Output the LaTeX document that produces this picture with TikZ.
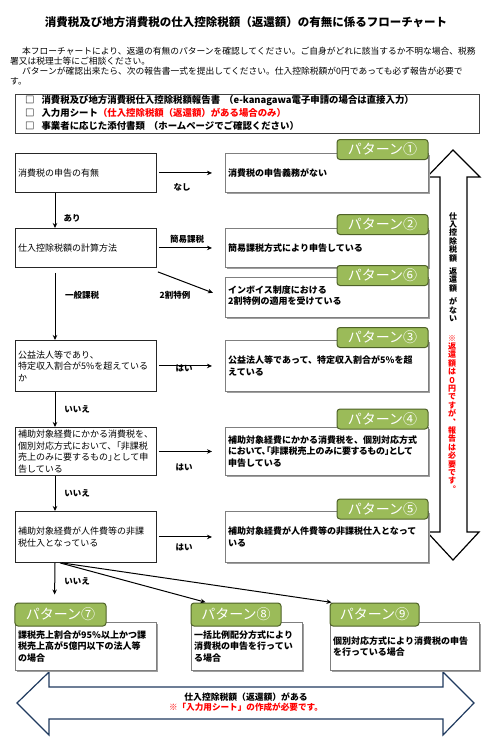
\documentclass[tikz,border=0pt]{standalone}
\usepackage{fontspec}
\setmainfont{Noto Sans CJK JP}
\newfontfamily\paltfont{Noto Sans CJK JP}[RawFeature=+palt]
\usetikzlibrary{arrows.meta,shadows,calc}
\definecolor{tabfill}{HTML}{9BBB59}
\definecolor{tabline}{HTML}{4F6228}
\definecolor{navyline}{HTML}{1F3A5F}
\definecolor{boxgray}{HTML}{7F7F7F}
\definecolor{redtxt}{HTML}{FF0000}
\begin{document}
\begin{tikzpicture}[x=1bp,y=-1bp,
  lbox/.style={draw=black!85, line width=0.9bp, fill=white, inner sep=0, anchor=north west},
  rbox/.style={draw=boxgray, line width=0.9bp, fill=white, inner sep=0, anchor=north west,
    drop shadow={shadow xshift=1.3bp, shadow yshift=-1.3bp, fill=gray!75, opacity=1}},
  ltxt/.style={font=\fontsize{9bp}{11.5bp}\selectfont, align=left, inner sep=0, anchor=west},
  rtxt/.style={font=\bfseries\fontsize{9bp}{11.5bp}\selectfont, align=left, inner sep=0, anchor=west},
  tabbox/.style={draw=tabline, fill=tabfill, rounded corners=3bp, line width=1bp, text=white,
    font=\fontsize{14bp}{14bp}\selectfont, inner sep=0, minimum width=91bp, minimum height=20bp},
  lab/.style={font=\bfseries\fontsize{8.5bp}{9bp}\selectfont, inner sep=0},
  intro/.style={font=\fontsize{8.75bp}{10bp}\selectfont, inner sep=0, anchor=west},
  chk/.style={font=\bfseries\fontsize{9.4bp}{10bp}\selectfont, inner sep=0, anchor=west},
  arr/.style={line width=1bp, -{Stealth[length=5bp,width=4.5bp]}},
  vtxt/.style={font=\bfseries\fontsize{8bp}{8.4bp}\selectfont, align=center, inner sep=0, anchor=north}
]
\useasboundingbox (0,0) rectangle (490,743);
\fill[white] (0,0) rectangle (490,743);

% title and intro
\node[font=\bfseries\fontsize{11.5bp}{12bp}\selectfont, inner sep=0] (title) at (246,22) {消費税及び地方消費税の仕入控除税額（返還額）の有無に係るフローチャート};
\node[intro] (i1) at (22,51.5) {本フローチャートにより、返還の有無のパターンを確認してください。ご自身がどれに該当するか不明な場合、税務};
\node[intro] (i2) at (10,61.5) {署又は税理士等にご相談ください。};
\node[intro] (i3) at (22,71.5) {パターンが確認出来たら、次の報告書一式を提出してください。仕入控除税額が0円であっても必ず報告が必要で};
\node[intro] (i4) at (10,81.5) {す。};

% checklist
\node[draw=black!75, line width=1bp, minimum width=464bp, minimum height=39bp, anchor=north west, inner sep=0] (chkbox) at (15,94) {};
\node[chk] (c1) at (25,100.5) {□\hspace{7bp}消費税及び地方消費税仕入控除税額報告書\hspace{4bp}（e-kanagawa電子申請の場合は直接入力）};
\node[chk] (c2) at (25,113) {□\hspace{7bp}入力用シート\textcolor{redtxt}{（仕入控除税額（返還額）がある場合のみ）}};
\node[chk] (c3) at (25,126) {□\hspace{7bp}事業者に応じた添付書類\hspace{4bp}（ホームページでご確認ください）};

% big arrows
\draw[line width=1.2bp, fill=white] (453,150) -- (480,177) -- (467,177) -- (467,532) -- (479,532) -- (453,560) -- (427,532) -- (440,532) -- (440,177) -- (427,177) -- cycle;
\draw[navyline, line width=1.2bp, fill=white] (17,703) -- (49,672) -- (49,687) -- (443,687) -- (443,672) -- (474,703) -- (443,735) -- (443,719) -- (49,719) -- (49,735) -- cycle;

\node[vtxt] (v1) at (453,212) {仕\\入\\控\\除\\税\\額\\[5bp]返\\還\\額\\[5bp]が\\な\\い};
\node[vtxt, text=redtxt] (v2) at (452,335) {※\\返\\還\\額\\は\\０\\円\\で\\す\\が\\︑\\報\\告\\は\\必\\要\\で\\す\\︒};

\node[font=\bfseries\fontsize{8.8bp}{9bp}\selectfont, inner sep=0] (h1) at (246,697) {仕入控除税額（返還額）がある};
\node[font=\bfseries\fontsize{8.6bp}{9bp}\selectfont, inner sep=0, text=redtxt] (h2) at (246,707.5) {※「入力用シート」の作成が必要です。};

% left boxes
\node[lbox, minimum width=141bp, minimum height=39bp] (b1) at (15,153) {};
\node[lbox, minimum width=141bp, minimum height=39bp] (b2) at (15,228) {};
\node[lbox, minimum width=141bp, minimum height=51bp] (b3) at (15,340) {};
\node[lbox, minimum width=141bp, minimum height=48bp] (b4) at (15,427) {};
\node[lbox, minimum width=141bp, minimum height=51bp] (b5) at (15,511) {};
\node[ltxt] (b1t) at ([xshift=3bp]b1.west) {消費税の申告の有無};
\node[ltxt] (b2t) at ([xshift=3bp]b2.west) {仕入控除税額の計算方法};
\node[ltxt] (b3t) at ([xshift=3bp]b3.west) {公益法人等であり、\\特定収入割合が5\%を超えている\\か};
\node[ltxt] (b4t) at ([xshift=3bp]b4.west) {補助対象経費にかかる消費税を、\\個別対応方式において、{\paltfont「}非課税\\売上のみに要するもの{\paltfont」}として申\\告している};
\node[ltxt] (b5t) at ([xshift=3bp]b5.west) {補助対象経費が人件費等の非課\\税仕入となっている};

% right boxes
\node[rbox, minimum width=203bp, minimum height=39bp] (p1) at (225,153) {};
\node[rbox, minimum width=203bp, minimum height=39bp] (p2) at (225,228) {};
\node[rbox, minimum width=203bp, minimum height=40bp] (p6) at (225,277) {};
\node[rbox, minimum width=203bp, minimum height=51bp] (p3) at (225,340) {};
\node[rbox, minimum width=203bp, minimum height=48bp] (p4) at (225,427) {};
\node[rbox, minimum width=203bp, minimum height=51bp] (p5) at (225,511) {};
\node[rtxt] (p1t) at ([xshift=3bp]p1.west) {消費税の申告義務がない};
\node[rtxt] (p2t) at ([xshift=3bp]p2.west) {簡易課税方式により申告している};
\node[rtxt] (p6t) at ([xshift=3bp,yshift=2bp]p6.west) {インボイス制度における\\2割特例の適用を受けている};
\node[rtxt] (p3t) at ([xshift=3bp]p3.west) {公益法人等であって、特定収入割合が5\%を超\\えている};
\node[rtxt] (p4t) at ([xshift=3bp]p4.west) {補助対象経費にかかる消費税を、個別対応方式\\{\paltfont において、「非課税売上のみに要するもの」として}\\申告している};
\node[rtxt] (p5t) at ([xshift=3bp]p5.west) {補助対象経費が人件費等の非課税仕入となって\\いる};

% bottom boxes
\node[rbox, minimum width=141bp, minimum height=48bp] (p7) at (15,622) {};
\node[rbox, minimum width=111bp, minimum height=48bp] (p8) at (191,622) {};
\node[rbox, minimum width=149bp, minimum height=48bp] (p9) at (330,622) {};
\node[rtxt] (p7t) at ([xshift=3bp]p7.west) {課税売上割合が95\%以上かつ課\\税売上高が5億円以下の法人等\\の場合};
\node[rtxt] (p8t) at ([xshift=3bp]p8.west) {一括比例配分方式により\\消費税の申告を行ってい\\る場合};
\node[rtxt] (p9t) at ([xshift=3bp]p9.west) {個別対応方式により消費税の申告\\を行っている場合};

% tabs
\node[tabbox] (t1) at (382.5,149.5) {パターン①};
\node[tabbox] (t2) at (382.5,224.5) {パターン②};
\node[tabbox] (t6) at (382.5,275.5) {パターン⑥};
\node[tabbox] (t3) at (382.5,337.5) {パターン③};
\node[tabbox] (t4) at (382.5,419) {パターン④};
\node[tabbox] (t5) at (382.5,509) {パターン⑤};
\node[tabbox, minimum height=23bp] (t7) at (60.5,614.5) {パターン⑦};
\node[tabbox, minimum width=90bp, minimum height=23bp] (t8) at (236,614.5) {パターン⑧};
\node[tabbox, minimum width=89bp, minimum height=23bp] (t9) at (374.5,614.5) {パターン⑨};

% connectors
\draw[arr, shorten <=2bp, shorten >=13bp] (b1.east) -- (p1.west);
\draw[arr, shorten <=2bp, shorten >=13bp] (b2.east) -- (p2.west);
\draw[arr, shorten >=13bp] ([xshift=1bp,yshift=-4bp]b2.south east) -- (p6.west);
\draw[arr, shorten <=2bp, shorten >=13bp] (b3.east) -- (p3.west);
\draw[arr, shorten <=2bp, shorten >=13bp] (b4.east) -- (p4.west);
\draw[arr, shorten <=2bp, shorten >=13bp] (b5.east) -- (p5.west);
\draw[arr] ([xshift=40bp]b1.south west) -- ([xshift=40bp]b2.north west);
\draw[arr, shorten <=5bp] ([xshift=40bp]b2.south west) -- ([xshift=40bp]b3.north west);
\draw[arr] ([xshift=40bp]b3.south west) -- ([xshift=40bp]b4.north west);
\draw[arr] ([xshift=40bp]b4.south west) -- ([xshift=40bp]b5.north west);
\draw[arr, shorten >=8bp] ([xshift=40bp]b5.south west) -- ([xshift=40bp]t7.north west);
\draw[arr, shorten >=1bp] ([xshift=45bp]b5.south west) -- ([xshift=16bp]t8.north west);
\draw[arr, shorten >=1bp] ([xshift=47bp]b5.south west) -- ([xshift=3bp]t9.north west);

% labels
\node[lab] (l1) at (182,187) {なし};
\node[lab] (l2) at (72,218) {あり};
\node[lab] (l3) at (187,239.5) {簡易課税};
\node[lab] (l4) at (82,295) {一般課税};
\node[lab] (l5) at (175,295) {2割特例};
\node[lab] (l6) at (184,368) {はい};
\node[lab] (l7) at (77,409) {いいえ};
\node[lab] (l8) at (184,467) {はい};
\node[lab] (l9) at (77,493) {いいえ};
\node[lab] (l10) at (184,547) {はい};
\node[lab] (l11) at (77,581) {いいえ};
\end{tikzpicture}
\end{document}
